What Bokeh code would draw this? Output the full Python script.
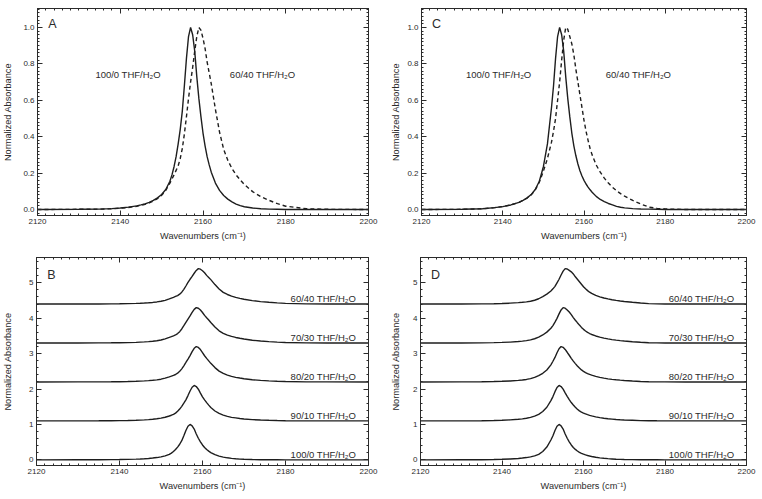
from bokeh.plotting import figure
from bokeh.layouts import column, row
from bokeh.models import LinearAxis, FixedTicker, CustomJSTickFormatter, PrintfTickFormatter
from bokeh.embed import file_html
from bokeh.resources import INLINE
from bokeh.core.properties import value

# ---------------- data ----------------
wavenumbers = [2120, 2130, 2135, 2138, 2140, 2142, 2144, 2145, 2146, 2147, 2148, 2149, 2150, 2151, 2152,
               2152.5, 2153, 2153.5, 2154, 2154.5, 2155, 2155.5, 2156, 2156.5, 2157, 2157.5, 2158, 2158.5,
               2159, 2159.5, 2160, 2160.5, 2161, 2161.5, 2162,
               2163, 2164, 2165, 2166, 2167, 2168, 2169, 2170, 2172, 2174, 2176, 2178, 2180, 2185, 2190, 2200]

# left column (A / B)
ab_100_0 = [0, 0.001, 0.002, 0.005, 0.008, 0.013, 0.02, 0.025, 0.031, 0.039, 0.05, 0.064, 0.082, 0.11, 0.155,
            0.19, 0.235, 0.29, 0.36, 0.44, 0.54, 0.68, 0.83, 0.95, 1.0, 0.96, 0.87, 0.73, 0.61, 0.51, 0.42, 0.35, 0.29, 0.245, 0.205,
            0.145, 0.105, 0.077, 0.057, 0.042, 0.03, 0.021, 0.015, 0.008, 0.004, 0.002, 0.001, 0, 0, 0, 0]
ab_90_10 = [0, 0.001, 0.002, 0.004, 0.007, 0.011, 0.018, 0.023, 0.029, 0.036, 0.046, 0.06, 0.078, 0.104, 0.138,
            0.16, 0.185, 0.22, 0.27, 0.334, 0.41, 0.50, 0.595, 0.715, 0.845, 0.95, 1.0, 0.97, 0.895, 0.785, 0.68, 0.595, 0.515, 0.445, 0.38,
            0.28, 0.21, 0.163, 0.128, 0.10, 0.084, 0.067, 0.055, 0.036, 0.024, 0.016, 0.01, 0.006, 0.001, 0, 0]
ab_80_20 = [0, 0.001, 0.003, 0.005, 0.007, 0.011, 0.018, 0.023, 0.029, 0.036, 0.047, 0.06, 0.078, 0.107, 0.142,
            0.162, 0.185, 0.21, 0.248, 0.30, 0.37, 0.457, 0.55, 0.645, 0.745, 0.855, 0.95, 1.0, 0.976, 0.915, 0.83, 0.74, 0.665, 0.595, 0.525,
            0.405, 0.305, 0.24, 0.193, 0.157, 0.13, 0.11, 0.091, 0.063, 0.044, 0.03, 0.019, 0.011, 0.003, 0.001, 0]
ab_70_30 = [0, 0.001, 0.003, 0.005, 0.008, 0.012, 0.019, 0.025, 0.031, 0.039, 0.05, 0.065, 0.085, 0.117, 0.157,
            0.178, 0.202, 0.227, 0.266, 0.32, 0.396, 0.488, 0.585, 0.676, 0.765, 0.864, 0.95, 1.0, 0.981, 0.93, 0.862, 0.78, 0.714, 0.65, 0.58,
            0.453, 0.345, 0.274, 0.224, 0.186, 0.157, 0.133, 0.112, 0.078, 0.056, 0.039, 0.024, 0.014, 0.003, 0.001, 0]
ab_60_40 = [0, 0.001, 0.002, 0.004, 0.007, 0.011, 0.018, 0.023, 0.029, 0.036, 0.046, 0.06, 0.078, 0.105, 0.145,
            0.168, 0.19, 0.215, 0.24, 0.28, 0.335, 0.415, 0.51, 0.61, 0.70, 0.78, 0.87, 0.95, 1.0, 0.985, 0.94, 0.885, 0.81, 0.75, 0.69,
            0.55, 0.425, 0.33, 0.27, 0.225, 0.19, 0.162, 0.137, 0.098, 0.07, 0.05, 0.032, 0.018, 0.004, 0.001, 0]

# right column (C / D)
cd_100_0 = [0, 0.001, 0.004, 0.01, 0.016, 0.025, 0.039, 0.05, 0.064, 0.082, 0.11, 0.155, 0.235, 0.36, 0.56,
            0.68, 0.83, 0.95, 1.0, 0.96, 0.87, 0.73, 0.61, 0.51, 0.42, 0.35, 0.295, 0.25, 0.213, 0.184, 0.16, 0.14, 0.123, 0.108, 0.095,
            0.072, 0.055, 0.043, 0.033, 0.025, 0.017, 0.012, 0.009, 0.005, 0.003, 0.002, 0.001, 0, 0, 0, 0]
cd_90_10 = [0, 0.001, 0.005, 0.011, 0.018, 0.028, 0.045, 0.057, 0.075, 0.098, 0.135, 0.186, 0.266, 0.385, 0.574,
            0.687, 0.826, 0.943, 1.0, 0.97, 0.898, 0.793, 0.694, 0.60, 0.518, 0.448, 0.385, 0.33, 0.284, 0.25, 0.221, 0.197, 0.176, 0.157, 0.14,
            0.113, 0.091, 0.075, 0.061, 0.05, 0.039, 0.031, 0.025, 0.017, 0.008, 0.004, 0.002, 0.001, 0, 0, 0]
cd_80_20 = [0, 0.001, 0.005, 0.011, 0.018, 0.027, 0.044, 0.055, 0.071, 0.094, 0.128, 0.178, 0.244, 0.338, 0.484,
            0.584, 0.692, 0.824, 0.938, 1.0, 0.978, 0.918, 0.838, 0.754, 0.666, 0.588, 0.518, 0.452, 0.392, 0.34, 0.30, 0.265, 0.237, 0.212, 0.191,
            0.157, 0.128, 0.107, 0.088, 0.073, 0.061, 0.05, 0.041, 0.026, 0.014, 0.006, 0.003, 0.001, 0, 0, 0]
cd_70_30 = [0, 0.001, 0.004, 0.01, 0.017, 0.026, 0.041, 0.053, 0.067, 0.088, 0.12, 0.166, 0.227, 0.307, 0.416,
            0.492, 0.592, 0.696, 0.822, 0.934, 1.0, 0.984, 0.934, 0.874, 0.802, 0.718, 0.644, 0.574, 0.506, 0.441, 0.385, 0.34, 0.30, 0.268, 0.241,
            0.199, 0.165, 0.137, 0.115, 0.096, 0.081, 0.067, 0.056, 0.037, 0.02, 0.008, 0.004, 0.002, 0, 0, 0]
cd_60_40 = [0, 0.001, 0.004, 0.01, 0.016, 0.025, 0.039, 0.05, 0.063, 0.08, 0.108, 0.15, 0.21, 0.28, 0.37,
            0.43, 0.50, 0.60, 0.70, 0.82, 0.93, 1.0, 0.99, 0.95, 0.91, 0.85, 0.77, 0.70, 0.63, 0.56, 0.49, 0.43, 0.38, 0.335, 0.30,
            0.245, 0.205, 0.172, 0.145, 0.122, 0.103, 0.087, 0.073, 0.05, 0.03, 0.013, 0.006, 0.003, 0, 0, 0]

series_labels = ["100/0 THF/H\u2082O", "90/10 THF/H\u2082O", "80/20 THF/H\u2082O", "70/30 THF/H\u2082O", "60/40 THF/H\u2082O"]
stack_offsets = [0.0, 1.1, 2.2, 3.3, 4.4]

x_ticks = [2120, 2140, 2160, 2180, 2200]
x_minor = list(range(2120, 2201, 2))
top_y_ticks = [0.0, 0.2, 0.4, 0.6, 0.8, 1.0]
top_y_minor = [round(-0.02 + 0.02 * i, 2) for i in range(57)]
bot_y_ticks = [0, 1, 2, 3, 4, 5]
bot_y_minor = [round(-0.2 + 0.2 * i, 1) for i in range(30)]

# ---------------- styling ----------------
FONT = "Liberation Sans"
INK = "#2b2b2b"
LINE = "#1e1e1e"
XLABEL = "Wavenumbers (cm\u207b\u00b9)"
YLABEL = "Normalized Absorbance"


def style_axis(ax, labels=True):
    ax.axis_line_color = INK
    ax.major_tick_line_color = INK
    ax.minor_tick_line_color = INK
    ax.major_tick_in = 5
    ax.major_tick_out = 0
    ax.minor_tick_in = 2
    ax.minor_tick_out = 0
    ax.major_label_text_font = FONT
    ax.major_label_text_font_size = "8px"
    ax.major_label_text_color = INK
    ax.major_label_standoff = 3
    ax.axis_label_text_font = FONT
    ax.axis_label_text_font_size = "9.2px"
    ax.axis_label_text_font_style = "normal"
    ax.axis_label_text_color = INK
    if not labels:
        ax.formatter = CustomJSTickFormatter(code="return ''")
        ax.major_label_standoff = 0


def make_panel(width, left, right, top, bottom, height, yrange, yt, ym, ylabel_standoff, yfmt=None):
    p = figure(width=width, height=height, x_range=(2120, 2200), y_range=yrange,
               min_border_left=left, min_border_right=right, min_border_top=top, min_border_bottom=bottom,
               output_backend="svg", toolbar_location=None)
    p.grid.visible = False
    p.outline_line_color = INK
    p.background_fill_color = "white"
    p.border_fill_color = "white"
    p.xaxis.ticker = FixedTicker(ticks=x_ticks, minor_ticks=x_minor)
    p.yaxis.ticker = FixedTicker(ticks=yt, minor_ticks=ym)
    if yfmt is not None:
        p.yaxis.formatter = PrintfTickFormatter(format=yfmt)
    style_axis(p.xaxis[0])
    style_axis(p.yaxis[0])
    p.xaxis.axis_label = XLABEL
    p.yaxis.axis_label = YLABEL
    p.xaxis.axis_label_standoff = 4
    p.yaxis.axis_label_standoff = ylabel_standoff
    top_ax = LinearAxis(ticker=FixedTicker(ticks=x_ticks, minor_ticks=x_minor))
    right_ax = LinearAxis(ticker=FixedTicker(ticks=yt, minor_ticks=ym))
    style_axis(top_ax, labels=False)
    style_axis(right_ax, labels=False)
    p.add_layout(top_ax, "above")
    p.add_layout(right_ax, "right")
    return p


def overlay_panel(width, left, right, s100, s60, letter, lab_left_x, lab_right_x, ystand):
    p = make_panel(width, left, right, 8, 41, 256, (-0.033, 1.104), top_y_ticks, top_y_minor, ystand, "%.1f")
    p.line(wavenumbers, s60, line_color=LINE, line_width=1.4, line_dash="4 3")
    p.line(wavenumbers, s100, line_color=LINE, line_width=1.4)
    p.text(x=[lab_left_x, lab_right_x], y=[0.74, 0.74], text=[series_labels[0], series_labels[4]],
           text_font=value(FONT), text_font_size=value("9.5px"), text_color=INK,
           text_align="center", text_baseline="middle")
    p.text(x=[2122.6], y=[1.02], text=[letter], text_font=value(FONT), text_font_size=value("12.5px"),
           text_color=INK, text_align="left", text_baseline="middle")
    return p


def stack_panel(width, left, right, curves, letter, ystand):
    p = make_panel(width, left, right, 1, 32, 241, (-0.16, 5.715), bot_y_ticks, bot_y_minor, ystand)
    for curve, off in zip(curves, stack_offsets):
        p.line(wavenumbers, [v + off for v in curve], line_color=LINE, line_width=1.4)
    p.text(x=[2197.0] * 5, y=[o + 0.16 for o in stack_offsets], text=series_labels,
           text_font=value(FONT), text_font_size=value("9.5px"), text_color=INK,
           text_align="right", text_baseline="alphabetic")
    p.text(x=[2122.6], y=[5.23], text=[letter], text_font=value(FONT), text_font_size=value("12.5px"),
           text_color=INK, text_align="left", text_baseline="middle")
    return p


pA = overlay_panel(388, 36, 20, ab_100_0, ab_60_40, "A", 2141.9, 2174.4, 7)
pC = overlay_panel(368, 28, 10, cd_100_0, cd_60_40, "C", 2139.0, 2173.4, 3)
pB = stack_panel(388, 36, 20, [ab_100_0, ab_90_10, ab_80_20, ab_70_30, ab_60_40], "B", 13)
pD = stack_panel(368, 28, 10, [cd_100_0, cd_90_10, cd_80_20, cd_70_30, cd_60_40], "D", 9)

layout = column(row(pA, pC), row(pB, pD))

with open("out.html", "w") as f:
    f.write(file_html(layout, INLINE))
